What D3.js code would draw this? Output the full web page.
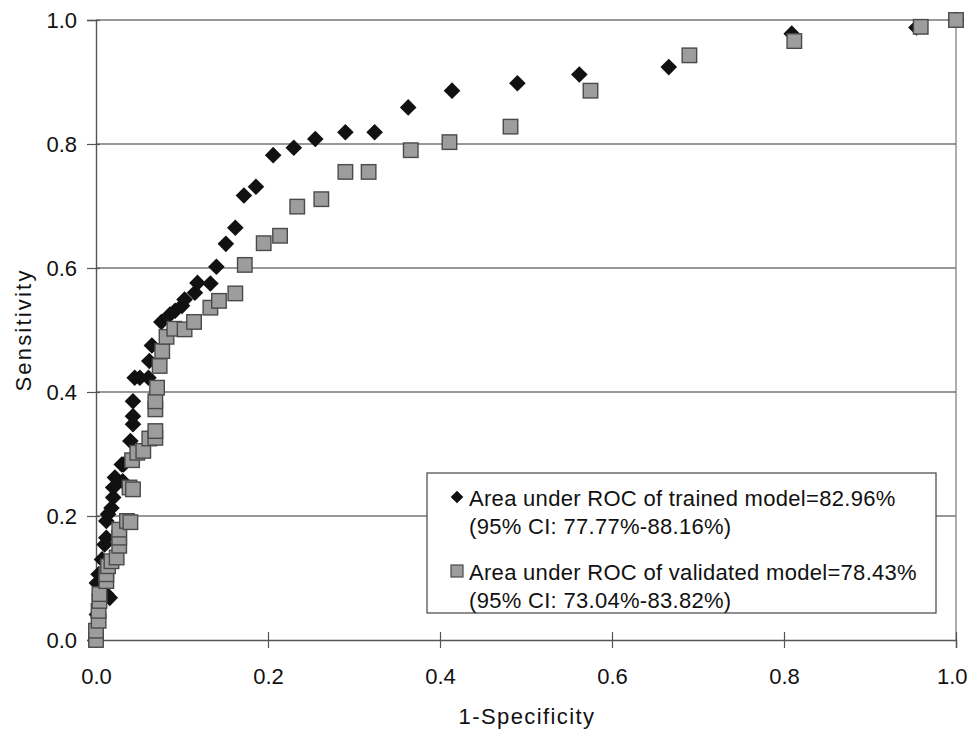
<!DOCTYPE html>
<html lang="en">

<head>
    <meta charset="UTF-8" />
    <style>
        body { margin: 0; background: #fff; }
        text { font-family: "Liberation Sans", Arial, sans-serif; fill: #111; }
    </style>
</head>

<body>
    <svg width="968" height="729"></svg>
    <script src="https://d3js.org/d3.v7.min.js"></script>
    <script>
        // 1-specificity / sensitivity pairs
        var trainedX = [0.000, 0.000, 0.001, 0.016, 0.012, 0.001, 0.003, 0.007, 0.010, 0.012, 0.012, 0.014,
            0.018, 0.020, 0.020, 0.022, 0.031, 0.030, 0.032, 0.040, 0.043, 0.043, 0.043, 0.045, 0.051, 0.061,
            0.062, 0.065, 0.076, 0.086, 0.092, 0.100, 0.103, 0.115, 0.118, 0.133, 0.140, 0.151, 0.162, 0.172,
            0.186, 0.206, 0.230, 0.255, 0.290, 0.324, 0.363, 0.414, 0.490, 0.562, 0.666, 0.809, 0.954, 1.000];
        var trainedY = [0.000, 0.020, 0.041, 0.068, 0.074, 0.092, 0.106, 0.130, 0.154, 0.165, 0.192, 0.203,
            0.213, 0.230, 0.246, 0.262, 0.256, 0.283, 0.283, 0.321, 0.348, 0.361, 0.385, 0.423, 0.423, 0.423,
            0.450, 0.475, 0.513, 0.525, 0.531, 0.539, 0.549, 0.560, 0.576, 0.575, 0.602, 0.639, 0.665, 0.717,
            0.731, 0.782, 0.794, 0.808, 0.819, 0.819, 0.859, 0.886, 0.898, 0.912, 0.924, 0.978, 0.988, 1.000];

        var validX = [0.000, 0.000, 0.003, 0.003, 0.004, 0.004, 0.012, 0.012, 0.014, 0.018, 0.024, 0.027,
            0.027, 0.027, 0.036, 0.040, 0.039, 0.043, 0.042, 0.048, 0.055, 0.062, 0.069, 0.069, 0.069, 0.069,
            0.071, 0.074, 0.077, 0.082, 0.091, 0.103, 0.114, 0.133, 0.143, 0.162, 0.173, 0.195, 0.214, 0.234,
            0.262, 0.290, 0.317, 0.366, 0.411, 0.482, 0.575, 0.690, 0.812, 0.959, 1.000];
        var validY = [0.000, 0.015, 0.031, 0.047, 0.063, 0.074, 0.095, 0.106, 0.119, 0.127, 0.133, 0.152,
            0.165, 0.178, 0.192, 0.190, 0.246, 0.243, 0.290, 0.302, 0.305, 0.325, 0.326, 0.337, 0.372, 0.385,
            0.407, 0.442, 0.466, 0.489, 0.502, 0.501, 0.513, 0.536, 0.547, 0.559, 0.605, 0.640, 0.652, 0.699,
            0.711, 0.755, 0.755, 0.790, 0.803, 0.828, 0.886, 0.943, 0.966, 0.989, 1.000];

        var ticks = [0, 0.2, 0.4, 0.6, 0.8, 1.0];
        var legendLines = [
            ["Area under ROC of trained model=82.96%", "(95% CI: 77.77%-88.16%)"],
            ["Area under ROC of validated model=78.43%", "(95% CI: 73.04%-83.82%)"]
        ];

        var svg = d3.select("svg");
        var pLeft = 96, pRight = 956, pTop = 20, pBottom = 640;

        var x = d3.scaleLinear().domain([0, 1]).range([pLeft, pRight]);
        var y = d3.scaleLinear().domain([0, 1]).range([pBottom, pTop]);

        // gridlines
        svg.append("g").selectAll("line")
            .data(ticks.slice(1))
            .enter().append("line")
            .attr("x1", pLeft).attr("x2", pRight)
            .attr("y1", d => y(d)).attr("y2", d => y(d))
            .style("stroke", "#333").style("stroke-width", 1.2);

        svg.append("line")
            .attr("x1", pRight).attr("x2", pRight).attr("y1", pTop).attr("y2", pBottom)
            .style("stroke", "#777").style("stroke-width", 1.2);

        var xAxis = svg.append("g")
            .attr("transform", "translate(0," + pBottom + ")")
            .call(d3.axisBottom(x).tickValues(ticks).tickFormat(d3.format(".1f")).tickSize(8).tickPadding(20));
        xAxis.selectAll(".tick line").attr("y1", -8);
        // last label sits against the right edge of the page
        xAxis.selectAll(".tick text").filter(d => d === 1)
            .attr("text-anchor", "end").attr("dx", 11);

        var yAxis = svg.append("g")
            .attr("transform", "translate(" + pLeft + ",0)")
            .call(d3.axisLeft(y).tickValues(ticks).tickFormat(d3.format(".1f")).tickSize(9).tickPadding(10));
        yAxis.selectAll(".tick line").attr("x1", 4);

        svg.selectAll(".domain").style("stroke", "#555").style("stroke-width", 1.4);
        svg.selectAll(".tick line").style("stroke", "#555").style("stroke-width", 1.2);
        svg.selectAll(".tick text")
            .style("font-family", "'Liberation Sans', Arial, sans-serif")
            .style("font-size", "22px").style("fill", "#111");

        // axis titles
        svg.append("text")
            .attr("x", 527).attr("y", 724)
            .attr("text-anchor", "middle").style("font-size", "22px")
            .style("letter-spacing", "1.4px")
            .text("1-Specificity");

        svg.append("text")
            .attr("transform", "translate(31,330) rotate(-90)")
            .attr("text-anchor", "middle").style("font-size", "22px")
            .style("letter-spacing", "2.2px")
            .text("Sensitivity");

        var diamond = d3.symbol().type(d3.symbolSquare).size(138);

        svg.append("g").selectAll("path")
            .data(d3.range(trainedX.length))
            .enter().append("path")
            .attr("d", diamond)
            .attr("transform", i => "translate(" + x(trainedX[i]) + "," + y(trainedY[i]) + ") rotate(45)")
            .style("fill", "#111");

        var sq = 14.5;
        svg.append("g").selectAll("rect")
            .data(d3.range(validX.length))
            .enter().append("rect")
            .attr("x", i => x(validX[i]) - sq / 2)
            .attr("y", i => y(validY[i]) - sq / 2)
            .attr("width", sq).attr("height", sq)
            .style("fill", "#9d9d9d").style("stroke", "#4a4a4a").style("stroke-width", 1.4);

        // legend
        var lg = svg.append("g");
        lg.append("rect")
            .attr("x", 427).attr("y", 473).attr("width", 509).attr("height", 140)
            .style("fill", "#fff").style("stroke", "#444").style("stroke-width", 1.2);

        lg.append("path")
            .attr("d", d3.symbol().type(d3.symbolSquare).size(80))
            .attr("transform", "translate(457,497) rotate(45)")
            .style("fill", "#111");
        lg.append("rect")
            .attr("x", 451).attr("y", 565).attr("width", 12).attr("height", 12)
            .style("fill", "#9d9d9d").style("stroke", "#4a4a4a").style("stroke-width", 1.2);

        legendLines.forEach(function (pair, k) {
            pair.forEach(function (line, j) {
                lg.append("text")
                    .attr("x", 469).attr("y", 506 + k * 74 + j * 28)
                    .style("font-size", "22px")
                    .style("letter-spacing", "0.3px")
                    .text(line);
            });
        });
    </script>
</body>

</html>
